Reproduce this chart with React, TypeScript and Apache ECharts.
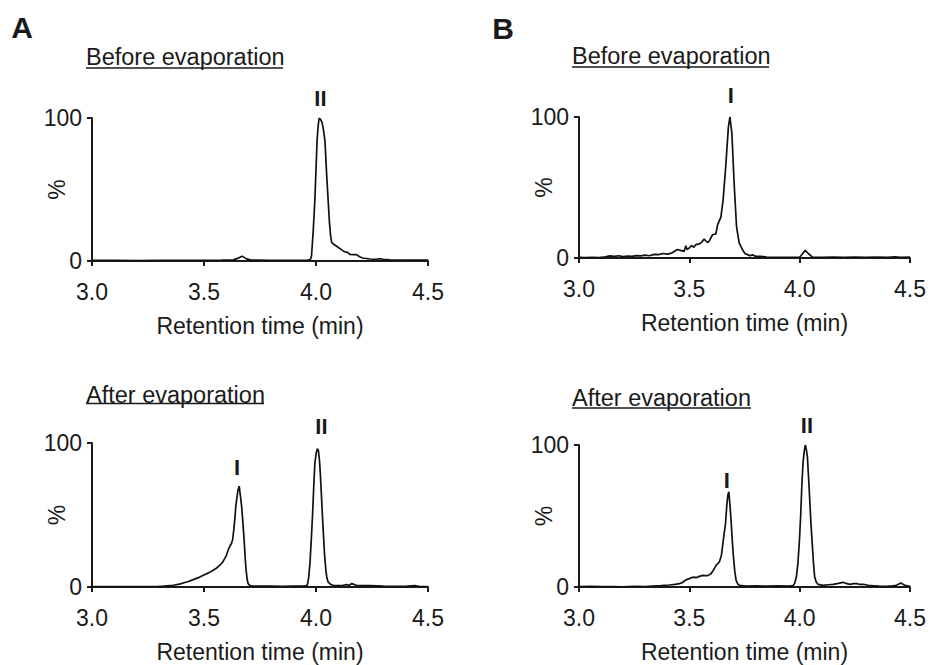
import React, { useEffect, useRef } from "react";
import * as echarts from "echarts";

// ---- data ----
const panelLetters = ["A", "B"];
const panelTitles = ["Before evaporation", "Before evaporation", "After evaporation", "After evaporation"];
const xAxisName = "Retention time (min)";
const yAxisName = "%";
const xMin = 3.0;
const xMax = 4.5;
const xStep = 0.5;
const yMin = 0;
const yMax = 100;

// Panel A, before evaporation: [retention time (min), relative intensity (%)]
const beforeA: number[][] = [
  [3.0, 0.4], [3.1, 0.4], [3.2, 0.3], [3.3, 0.4], [3.4, 0.4], [3.5, 0.5], [3.58, 0.6],
  [3.63, 0.8], [3.65, 1.8], [3.67, 3.4], [3.69, 1.5], [3.71, 0.6], [3.8, 0.5], [3.9, 0.4],
  [3.96, 0.4], [3.975, 1.0], [3.98, 3.5], [3.988, 22], [3.995, 43], [4.005, 85], [4.01, 95],
  [4.014, 100], [4.02, 99], [4.027, 97], [4.033, 92], [4.04, 84], [4.047, 62], [4.054, 43],
  [4.06, 27], [4.065, 18], [4.07, 13], [4.08, 11.5], [4.091, 10.5], [4.1, 9.4], [4.106, 8.8],
  [4.116, 7.6], [4.128, 6.5], [4.14, 6.0], [4.151, 4.7], [4.168, 4.5], [4.181, 4.4],
  [4.195, 3.0], [4.207, 2.1], [4.24, 1.4], [4.27, 1.2], [4.285, 1.6], [4.3, 1.1],
  [4.33, 0.8], [4.4, 0.7], [4.45, 0.6], [4.5, 0.6],
];

// Panel B, before evaporation
const beforeB: number[][] = [
  [3.0, 0.4], [3.03, 0.2], [3.06, 0.4], [3.09, 0.3], [3.12, 0.8], [3.14, 1.5], [3.16, 1.2],
  [3.18, 1.6], [3.2, 1.0], [3.22, 1.4], [3.24, 1.1], [3.26, 1.7], [3.28, 1.5], [3.3, 2.0],
  [3.32, 1.6], [3.34, 2.6], [3.36, 2.4], [3.38, 3.2], [3.4, 2.8], [3.42, 3.5], [3.435, 5.0],
  [3.446, 6.0], [3.46, 5.4], [3.476, 4.7], [3.484, 8.7], [3.49, 6.0], [3.499, 7.0],
  [3.51, 8.9], [3.52, 7.6], [3.53, 9.5], [3.544, 10.0], [3.555, 11.0], [3.567, 13.4],
  [3.582, 11.0], [3.59, 12.0], [3.605, 16.5], [3.62, 17.0], [3.628, 23.5], [3.643, 29],
  [3.653, 41], [3.665, 65], [3.677, 93], [3.684, 100], [3.693, 88], [3.703, 53], [3.714, 22],
  [3.726, 10.6], [3.741, 5.9], [3.752, 3.2], [3.764, 2.4], [3.775, 1.6], [3.786, 2.2],
  [3.8, 1.2], [3.824, 1.2], [3.85, 0.6], [3.9, 0.5], [3.95, 0.4], [4.0, 0.5], [4.012, 2.8],
  [4.025, 5.4], [4.04, 3.0], [4.058, 0.6], [4.1, 0.4], [4.15, 0.6], [4.2, 0.4], [4.25, 0.6],
  [4.3, 0.5], [4.35, 0.6], [4.4, 0.4], [4.43, 0.8], [4.46, 0.5], [4.5, 0.6],
];

// Panel A, after evaporation
const afterA: number[][] = [
  [3.0, 0.3], [3.1, 0.3], [3.2, 0.3], [3.3, 0.4], [3.32, 0.6], [3.363, 1.2], [3.39, 2.0],
  [3.407, 2.8], [3.43, 3.8], [3.452, 5.1], [3.475, 6.5], [3.497, 8.2], [3.52, 9.8],
  [3.541, 11.7], [3.557, 13.2], [3.571, 15.2], [3.583, 17.2], [3.593, 19.9], [3.6, 22.0],
  [3.608, 25.7], [3.616, 28.5], [3.623, 30.4], [3.628, 33], [3.633, 39.7], [3.638, 48],
  [3.642, 56], [3.647, 62], [3.651, 66.6], [3.657, 70], [3.662, 64], [3.668, 56],
  [3.674, 44], [3.679, 32.7], [3.684, 20], [3.688, 11.7], [3.693, 5], [3.697, 2.3],
  [3.705, 1.0], [3.713, 0.7], [3.75, 0.6], [3.8, 0.6], [3.85, 0.5], [3.9, 0.6], [3.95, 0.7],
  [3.961, 1.2], [3.967, 6], [3.973, 16.4], [3.979, 33], [3.985, 51.4], [3.99, 70],
  [3.995, 86.4], [4.001, 93], [4.006, 96], [4.011, 94.6], [4.016, 87], [4.02, 77],
  [4.026, 58], [4.032, 39.7], [4.038, 23], [4.044, 11.7], [4.049, 6], [4.054, 3.5],
  [4.065, 1.8], [4.077, 1.2], [4.1, 1.0], [4.121, 1.2], [4.136, 1.6], [4.148, 1.2],
  [4.159, 2.3], [4.17, 1.8], [4.182, 1.0], [4.21, 0.9], [4.241, 0.9], [4.3, 0.6],
  [4.36, 0.5], [4.4, 0.5], [4.441, 0.9], [4.46, 0.5], [4.5, 0.3],
];

// Panel B, after evaporation
const afterB: number[][] = [
  [3.0, 0.3], [3.05, 0.4], [3.1, 0.2], [3.15, 0.3], [3.2, 0.1], [3.25, 0.4], [3.3, 0.3],
  [3.333, 0.7], [3.37, 1.0], [3.409, 1.4], [3.435, 1.8], [3.455, 2.4], [3.467, 3.0],
  [3.477, 4.2], [3.49, 5.4], [3.5, 5.9], [3.51, 6.6], [3.523, 7.0], [3.53, 6.5],
  [3.545, 7.5], [3.561, 8.2], [3.57, 8.0], [3.583, 8.0], [3.598, 9.4], [3.61, 12.0],
  [3.621, 15.3], [3.636, 17.6], [3.645, 22], [3.652, 30.6], [3.658, 38], [3.664, 44.7],
  [3.67, 58], [3.675, 65], [3.679, 67], [3.684, 58], [3.689, 47], [3.695, 32], [3.7, 21],
  [3.706, 11], [3.712, 4.7], [3.72, 2.0], [3.727, 1.2], [3.758, 0.7], [3.8, 0.8],
  [3.85, 0.6], [3.9, 0.8], [3.95, 0.7], [3.97, 1.0], [3.977, 2.4], [3.985, 7],
  [3.992, 16.5], [3.999, 33], [4.005, 51.8], [4.01, 72], [4.015, 87], [4.021, 96],
  [4.026, 100], [4.031, 96], [4.035, 91.8], [4.04, 78], [4.045, 63.5], [4.051, 45],
  [4.058, 28], [4.063, 16], [4.068, 7], [4.075, 3.5], [4.083, 1.9], [4.106, 1.2],
  [4.13, 1.6], [4.152, 1.9], [4.175, 2.6], [4.197, 3.3], [4.21, 2.5], [4.227, 1.9],
  [4.245, 2.4], [4.258, 2.4], [4.27, 1.9], [4.288, 1.9], [4.3, 1.6], [4.318, 0.9],
  [4.36, 0.6], [4.394, 0.5], [4.42, 0.9], [4.439, 1.2], [4.45, 2.2], [4.459, 2.8],
  [4.468, 2.0], [4.477, 1.2], [4.49, 0.8], [4.5, 0.5],
];

// Peak labels: name, retention time, peak height (%)
const peaksBeforeA = [{ name: "II", x: 4.02, y: 100 }];
const peaksBeforeB = [{ name: "I", x: 3.688, y: 100 }];
const peaksAfterA = [{ name: "I", x: 3.648, y: 70 }, { name: "II", x: 4.024, y: 96 }];
const peaksAfterB = [{ name: "I", x: 3.67, y: 67 }, { name: "II", x: 4.033, y: 100 }];

const seriesData = [beforeA, beforeB, afterA, afterB];
const peakData = [peaksBeforeA, peaksBeforeB, peaksAfterA, peaksAfterB];

// ---- layout / style ----
const FONT = "'Liberation Sans', Arial, Helvetica, sans-serif";
const INK = "#1a1a1a";
const grids = [
  { left: 92, top: 118, width: 336, height: 143 },
  { left: 579, top: 117, width: 331, height: 141 },
  { left: 92, top: 443, width: 336, height: 144 },
  { left: 579, top: 445, width: 331, height: 142 },
];
const peakOffsets = [
  [[0, -20]],
  [[0, -22]],
  [[0, -19], [0, -22]],
  [[0, -11], [0, -20]],
];
const titlePos = [
  { x: 86, y: 56.5, x2: 283, uy: 68 },
  { x: 572, y: 56, x2: 769, uy: 67 },
  { x: 86, y: 394.5, x2: 264, uy: 403.5 },
  { x: 572, y: 398, x2: 751, uy: 408 },
];
const letterPos = [
  { x: 22, y: 27 },
  { x: 503, y: 28 },
];

function buildOption() {
  const grid = grids.map((g) => ({ ...g, containLabel: false }));
  const xAxis = grids.map((_, i) => ({
    type: "value",
    gridIndex: i,
    min: xMin,
    max: xMax,
    interval: xStep,
    name: xAxisName,
    nameLocation: "middle",
    nameGap: 53,
    nameMoveOverlap: false,
    nameTextStyle: { fontSize: 23, color: INK, fontFamily: FONT },
    axisLine: { show: true, onZero: false, lineStyle: { color: INK, width: 2 } },
    axisTick: { show: true, length: 5, lineStyle: { color: INK, width: 2 } },
    axisLabel: {
      margin: 19,
      fontSize: 23,
      color: INK,
      fontFamily: FONT,
      formatter: (v: number) => v.toFixed(1),
    },
    splitLine: { show: false },
  }));
  const yAxis = grids.map((_, i) => ({
    type: "value",
    gridIndex: i,
    min: yMin,
    max: yMax,
    interval: yMax - yMin,
    name: yAxisName,
    nameLocation: "middle",
    nameRotate: 90,
    nameGap: 24,
    nameMoveOverlap: false,
    nameTextStyle: { fontSize: 23, color: INK, fontFamily: FONT },
    axisLine: { show: true, lineStyle: { color: INK, width: 2 } },
    axisTick: { show: true, length: 5, lineStyle: { color: INK, width: 2 } },
    axisLabel: {
      margin: 10,
      fontSize: 23,
      color: INK,
      fontFamily: FONT,
      padding: [7, 0, 0, 0],
    },
    splitLine: { show: false },
  }));
  const series = seriesData.map((d, i) => ({
    type: "line",
    xAxisIndex: i,
    yAxisIndex: i,
    data: d,
    symbol: "none",
    showSymbol: false,
    smooth: false,
    lineStyle: { color: "#111", width: 1.7 },
    silent: true,
    markPoint: {
      symbol: "circle",
      symbolSize: 0,
      silent: true,
      data: peakData[i].map((p, j) => ({
        name: p.name,
        coord: [p.x, p.y],
        label: {
          show: true,
          position: "inside",
          offset: peakOffsets[i][j],
          formatter: p.name,
          fontSize: 22,
          fontWeight: "bold",
          color: INK,
          fontFamily: FONT,
        },
      })),
    },
  }));
  const graphic: any[] = [];
  letterPos.forEach((p, i) => {
    graphic.push({
      type: "text",
      x: p.x,
      y: p.y,
      style: {
        text: panelLetters[i],
        fontSize: 30,
        fontWeight: "bold",
        fontFamily: FONT,
        fill: INK,
        align: "center",
        verticalAlign: "middle",
        textAlign: "center",
        textVerticalAlign: "middle",
      },
    });
  });
  titlePos.forEach((p, i) => {
    graphic.push({
      type: "text",
      x: p.x,
      y: p.y,
      style: {
        text: panelTitles[i],
        fontSize: 23.5,
        fontFamily: FONT,
        fill: INK,
        align: "left",
        verticalAlign: "middle",
        textAlign: "left",
        textVerticalAlign: "middle",
      },
    });
    graphic.push({
      type: "line",
      shape: { x1: p.x, y1: p.uy, x2: p.x2, y2: p.uy },
      style: { stroke: INK, lineWidth: 1.4 },
    });
  });
  return {
    animation: false,
    backgroundColor: "#ffffff",
    grid,
    xAxis,
    yAxis,
    series,
    graphic,
  };
}

export default function App() {
  const ref = useRef<HTMLDivElement>(null);
  useEffect(() => {
    if (!ref.current) return;
    const chart = echarts.init(ref.current, undefined, { renderer: "svg" });
    chart.setOption(buildOption() as any);
    return () => chart.dispose();
  }, []);
  return (
    <div
      ref={ref}
      style={{ position: "absolute", left: 0, top: 0, width: 941, height: 665, background: "#fff" }}
    />
  );
}
